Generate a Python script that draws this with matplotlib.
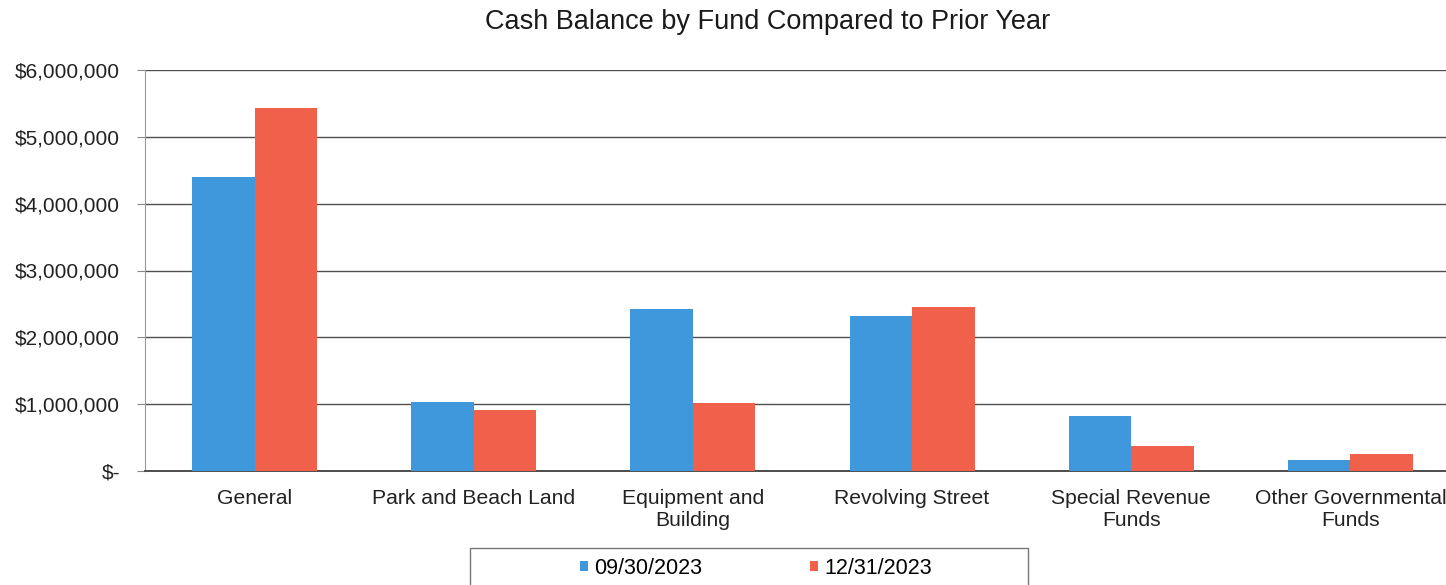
import matplotlib
matplotlib.use("Agg")
import matplotlib.pyplot as plt
import numpy as np
from matplotlib.ticker import FuncFormatter
from matplotlib.patches import Rectangle

categories = ["General", "Park and Beach Land", "Equipment and\nBuilding",
              "Revolving Street", "Special Revenue\nFunds", "Other Governmental\nFunds"]
series_names = ["09/30/2023", "12/31/2023"]
sep_2023 = [4400000, 1030000, 2420000, 2320000, 820000, 160000]
dec_2023 = [5430000, 910000, 1020000, 2450000, 370000, 250000]
y_ticks = [0, 1000000, 2000000, 3000000, 4000000, 5000000, 6000000]

blue = "#3f97dc"
red = "#f0604b"

plt.rcParams['font.family'] = ['Liberation Sans', 'DejaVu Sans']

fig = plt.figure(figsize=(14.46, 5.85), dpi=100)
ax = fig.add_axes([145/1446, 1-471/585, 1315/1446, (471-70)/585])

x = np.arange(len(categories))
w = 0.285
ax.bar(x - w/2, sep_2023, w, color=blue, label=series_names[0], zorder=3)
ax.bar(x + w/2, dec_2023, w, color=red, label=series_names[1], zorder=3)

ax.set_xlim(-0.5, len(categories) - 0.5)
ax.set_ylim(0, 6000000)
ax.set_yticks(y_ticks)

def fmt(v, pos):
    if v == 0:
        return "$-"
    return "${:,.0f}".format(v)
ax.yaxis.set_major_formatter(FuncFormatter(fmt))

ax.set_xticks(x)
ax.set_xticklabels(categories, fontsize=15.2, color="#222222", linespacing=1.2)
ax.tick_params(axis='x', length=0, pad=13)
ax.tick_params(axis='y', length=6, color="#888888", labelsize=15, labelcolor="#222222", pad=12)

ax.grid(axis='y', color="#505050", linewidth=1.0, zorder=0)
for s in ["top", "right"]:
    ax.spines[s].set_visible(False)
ax.spines["left"].set_color("#999999")
ax.spines["bottom"].set_color("#404040")
ax.spines["bottom"].set_linewidth(1.3)

fig.text(768/1446, 1-22/585, "Cash Balance by Fund Compared to Prior Year",
         ha="center", va="center", fontsize=19.5, color="#1a1a1a")

# legend frame
fig.patches.append(Rectangle((470/1446, -0.01), 558/1446, 1-548/585 + 0.01,
                             transform=fig.transFigure, facecolor="white",
                             edgecolor="#777777", linewidth=1.0, zorder=1))
leg = fig.legend(loc="center", bbox_to_anchor=(756/1446, 1-568/585),
                 ncol=2, frameon=False, fontsize=15.5,
                 handlelength=0.35, handleheight=0.35, handletextpad=0.3,
                 columnspacing=5.0, borderaxespad=0, borderpad=0)
leg.set_zorder(2)

fig.savefig("out.png", dpi=100)
